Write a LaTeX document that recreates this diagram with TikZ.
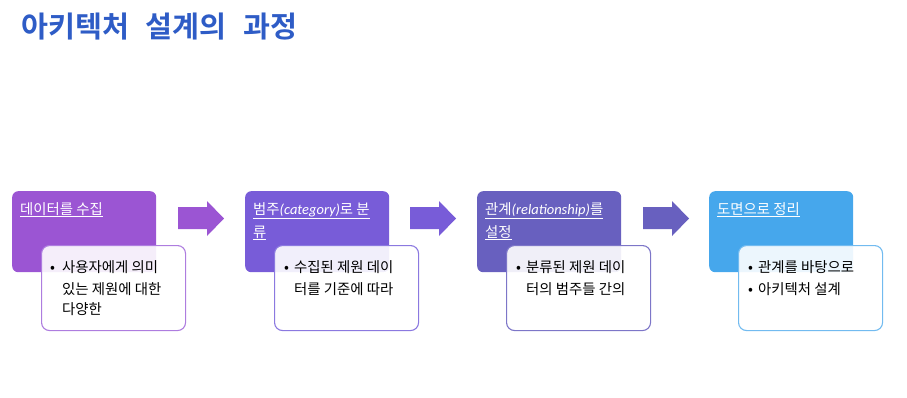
\documentclass[tikz,border=0pt]{standalone}
\usepackage{fontspec}
\setmainfont{Noto Sans CJK KR}
\newfontfamily\latinit{Carlito}
\newfontfamily\titlefont[WordSpace=2.5]{Noto Sans CJK KR Bold}
\definecolor{titleblue}{HTML}{2E5CC6}
\definecolor{ca}{HTML}{9B55D3}
\definecolor{cb}{HTML}{785CD8}
\definecolor{cc}{HTML}{6860BF}
\definecolor{cd}{HTML}{46A7EC}
\definecolor{ba}{HTML}{AE7DDF}
\definecolor{bb}{HTML}{8B79E0}
\definecolor{bc}{HTML}{7D76C8}
\definecolor{bd}{HTML}{72BBF0}
\tikzset{
  topbox/.style={rounded corners=6pt, minimum width=144pt, minimum height=81pt, anchor=north west, inner sep=0pt, draw=none},
  lowbox/.style={rounded corners=8pt, minimum width=144pt, minimum height=85pt, anchor=north west, inner sep=0pt, fill=white, fill opacity=0.9, line width=1.1pt},
  hdr/.style={anchor=base west, inner sep=0pt, text=white, font=\fontsize{14.4}{16}\selectfont},
  body/.style={anchor=base west, inner sep=0pt, text=black, font=\fontsize{14.4}{16}\selectfont},
}
\newcommand\blockarr[2]{%
  \fill[#2] (#1,207) -- (#1+29,207) -- (#1+29,201) -- (#1+46,218.5) -- (#1+29,236) -- (#1+29,229) -- (#1,229) -- cycle;}
\begin{document}
\begin{tikzpicture}[x=1pt,y=-1pt]
\useasboundingbox (0,0) rectangle (907,397);
\node[anchor=west, inner sep=0pt, text=titleblue, font=\titlefont\fontsize{29.3}{32}\selectfont] (title) at (21,27) {아키텍처 설계의 과정};

% step 1
\node[topbox, fill=ca] (h1) at (12,191) {};
\node[hdr] (h1a) at (20,214) {\underline{데이터를 수집}};
\node[lowbox, draw=ba] (l1) at (41,245) {};
\node[body] (b1) at (50,272) {•};
\node[body] (l1a) at (62,272) {사용자에게 의미};
\node[body] (l1b) at (62,294) {있는 제원에 대한};
\node[body] (l1c) at (62,314) {다양한};
\blockarr{178}{ca}

% step 2
\node[topbox, fill=cb] (h2) at (245,191) {};
\node[hdr] (h2a) at (253,214) {\underline{범주{\latinit\itshape\fontsize{14.5}{16}\selectfont(category)}로 분}};
\node[hdr] (h2b) at (253,237) {\underline{류}};
\node[lowbox, draw=bb] (l2) at (274,245) {};
\node[body] (b2) at (284,272) {•};
\node[body] (l2a) at (294,272) {수집된 제원 데이};
\node[body] (l2b) at (294,294) {터를 기준에 따라};
\blockarr{410}{cb}

% step 3
\node[topbox, fill=cc] (h3) at (477,191) {};
\node[hdr] (h3a) at (485,214) {\underline{관계{\latinit\itshape\fontsize{14.5}{16}\selectfont(relationship)}를}};
\node[hdr] (h3b) at (485,237) {\underline{설정}};
\node[lowbox, draw=bc] (l3) at (506,245) {};
\node[body] (b3) at (516,272) {•};
\node[body] (l3a) at (526,272) {분류된 제원 데이};
\node[body] (l3b) at (526,294) {터의 범주들 간의};
\blockarr{643}{cc}

% step 4
\node[topbox, fill=cd] (h4) at (709,191) {};
\node[hdr] (h4a) at (717,214) {\underline{도면으로 정리}};
\node[lowbox, draw=bd] (l4) at (738,245) {};
\node[body] (b4a) at (748,272) {•};
\node[body] (l4a) at (758,272) {관계를 바탕으로};
\node[body] (b4b) at (748,294) {•};
\node[body] (l4b) at (758,294) {아키텍처 설계};
\end{tikzpicture}
\end{document}
